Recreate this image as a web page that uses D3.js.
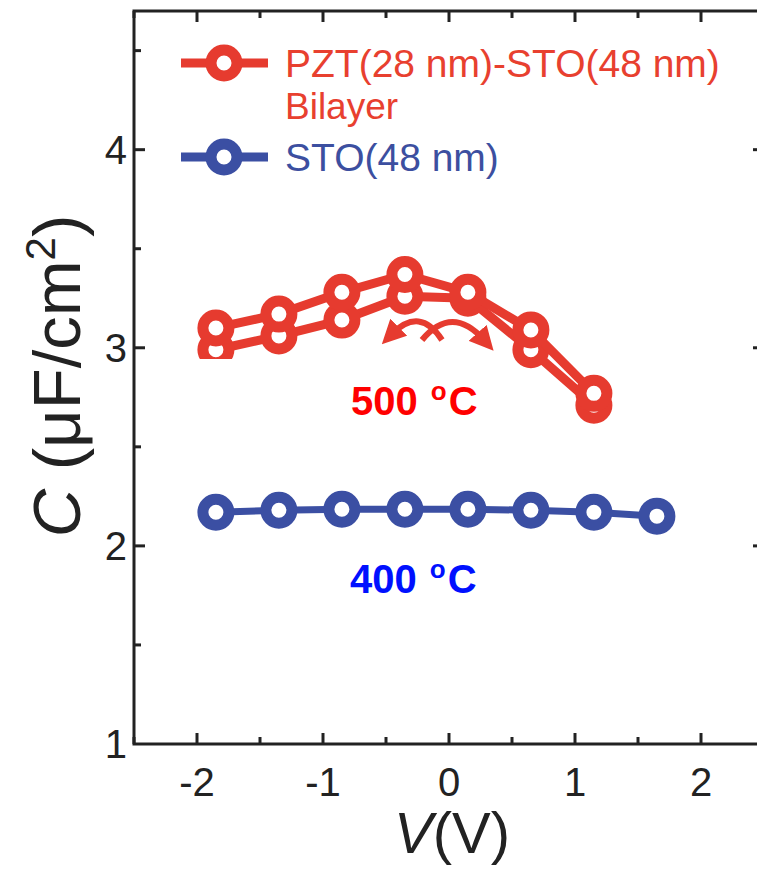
<!DOCTYPE html>
<html>
<head>
<meta charset="utf-8">
<script src="https://cdn.jsdelivr.net/npm/d3@7/dist/d3.min.js"></script>
<style>
  html, body { margin: 0; padding: 0; background: #fff; }
  svg { display: block; font-family: "Liberation Sans", Arial, sans-serif; }
</style>
</head>
<body>
<svg id="chart" width="757" height="870"></svg>
<script>
// Bias voltage sweep points (V)
const voltageBilayer = [-1.85, -1.35, -0.85, -0.35, 0.15, 0.65, 1.15];
const voltageSTO = [-1.85, -1.35, -0.85, -0.35, 0.15, 0.65, 1.15, 1.65];

// Capacitance density (µF/cm²): PZT–STO bilayer, two sweep directions
const bilayerSweepUp = [3.10, 3.17, 3.28, 3.37, 3.28, 3.09, 2.77];
const bilayerSweepDown = [2.99, 3.06, 3.14, 3.26, 3.25, 2.99, 2.71];
// STO single layer
const stoValues = [2.17, 2.18, 2.185, 2.185, 2.185, 2.18, 2.17, 2.15];

const xTicks = [-2, -1, 0, 1, 2];
const yTicks = [1, 2, 3, 4];
const xMinorTicks = [-2.5, -1.5, -0.5, 0.5, 1.5];
const yMinorTicks = [1.5, 2.5, 3.5, 4.5];

const legendLabels = ["PZT(28 nm)-STO(48 nm)", "Bilayer", "STO(48 nm)"];
const tempLabels = ["500", "400"];

const RED = "#e63b2f";
const BLUE = "#3b4fa3";
const AXIS = "#222";

const svg = d3.select("#chart");

const x = d3.scaleLinear().domain([-2.5, 2.5]).range([134, 764]);
const y = d3.scaleLinear().domain([1, 4.7]).range([744, 11]);

// Frame
svg.append("rect")
  .attr("x", x(-2.5)).attr("y", y(4.7))
  .attr("width", x(2.5) - x(-2.5)).attr("height", y(1) - y(4.7))
  .attr("fill", "none").attr("stroke", AXIS).attr("stroke-width", 3);

// Inward ticks on all four sides
const tickG = svg.append("g").attr("stroke", AXIS).attr("stroke-width", 3);
function xTick(v, len) {
  tickG.append("line").attr("x1", x(v)).attr("x2", x(v))
    .attr("y1", y(1)).attr("y2", y(1) - len);
  tickG.append("line").attr("x1", x(v)).attr("x2", x(v))
    .attr("y1", y(4.7)).attr("y2", y(4.7) + len);
}
function yTick(v, len) {
  tickG.append("line").attr("y1", y(v)).attr("y2", y(v))
    .attr("x1", x(-2.5)).attr("x2", x(-2.5) + len);
  tickG.append("line").attr("y1", y(v)).attr("y2", y(v))
    .attr("x1", x(2.5)).attr("x2", x(2.5) - len);
}
xTicks.forEach(v => xTick(v, 11));
xMinorTicks.forEach(v => xTick(v, 7));
yTicks.filter(v => v > 1).forEach(v => yTick(v, 11));
yMinorTicks.forEach(v => yTick(v, 7));

// Tick labels
svg.append("g").selectAll("text").data(xTicks).join("text")
  .attr("x", d => x(d)).attr("y", 796)
  .attr("text-anchor", "middle")
  .attr("font-size", 40).attr("fill", AXIS)
  .text(d => d);
svg.append("g").selectAll("text").data(yTicks).join("text")
  .attr("x", 127).attr("y", d => y(d)).attr("dy", "0.36em")
  .attr("text-anchor", "end")
  .attr("font-size", 40).attr("fill", AXIS)
  .text(d => d);

// Axis titles
const xt = svg.append("text")
  .attr("x", 452).attr("y", 853)
  .attr("text-anchor", "middle")
  .attr("font-size", 58).attr("fill", AXIS);
xt.append("tspan").attr("font-style", "italic").text("V");
xt.append("tspan").text("(V)");

const yt = svg.append("text")
  .attr("transform", "translate(80,376) rotate(-90)")
  .attr("text-anchor", "middle")
  .attr("font-size", 67).attr("fill", AXIS);
yt.append("tspan").attr("font-style", "italic").text("C");
yt.append("tspan").text(" (μF/cm");
yt.append("tspan").attr("font-size", 42).attr("dy", -25).text("2");
yt.append("tspan").attr("dy", 25).text(")");

// Series drawing
const line = d3.line().x(d => x(d[0])).y(d => y(d[1]));
function drawSeries(xs, ys, color, lw) {
  const pts = xs.map((v, i) => [v, ys[i]]);
  const g = svg.append("g");
  g.append("path").datum(pts).attr("d", line)
    .attr("fill", "none").attr("stroke", color)
    .attr("stroke-width", lw).attr("stroke-linejoin", "round");
  g.selectAll("circle").data(pts).join("circle")
    .attr("cx", d => x(d[0])).attr("cy", d => y(d[1]))
    .attr("r", 13).attr("fill", "#fff")
    .attr("stroke", color).attr("stroke-width", 11);
}

drawSeries(voltageSTO, stoValues, BLUE, 7);
drawSeries(voltageBilayer, bilayerSweepDown, RED, 9);
drawSeries(voltageBilayer, bilayerSweepUp, RED, 9);

// Sweep-direction arrows under the bilayer peak
const defs = svg.append("defs");
defs.append("marker").attr("id", "arrowRed")
  .attr("viewBox", "0 0 10 10").attr("refX", 4).attr("refY", 5)
  .attr("markerWidth", 4).attr("markerHeight", 4)
  .attr("orient", "auto")
  .append("path").attr("d", "M0,0 L10,5 L0,10 Z").attr("fill", RED);
const arrowG = svg.append("g").attr("fill", "none")
  .attr("stroke", RED).attr("stroke-width", 6);
arrowG.append("path")
  .attr("d", "M442,340 Q420,306 392,334")
  .attr("marker-end", "url(#arrowRed)");
arrowG.append("path")
  .attr("d", "M422,340 Q452,304 484,340")
  .attr("marker-end", "url(#arrowRed)");

// Label backing patch over the lower-left markers
svg.append("rect").attr("x", 165).attr("y", 359)
  .attr("width", 160).attr("height", 60).attr("fill", "#fff");

// Temperature labels
function tempLabel(txt, cx, cy, color) {
  const t = svg.append("text").attr("x", cx).attr("y", cy)
    .attr("font-size", 40).attr("font-weight", "bold").attr("fill", color);
  t.append("tspan").text(txt + " ");
  t.append("tspan").attr("font-size", 26).attr("dx", 2).attr("dy", -15).text("o");
  t.append("tspan").attr("dx", 2).attr("dy", 15).text("C");
}
tempLabel(tempLabels[0], 351, 415, "#ff0000");
tempLabel(tempLabels[1], 350, 593, "#0010ff");

// Legend
function legendRow(cy, color) {
  const g = svg.append("g");
  g.append("line").attr("x1", 181).attr("x2", 268).attr("y1", cy).attr("y2", cy)
    .attr("stroke", color).attr("stroke-width", 9);
  g.append("circle").attr("cx", 224).attr("cy", cy).attr("r", 13)
    .attr("fill", "#fff").attr("stroke", color).attr("stroke-width", 11);
}
legendRow(63, RED);
legendRow(157, BLUE);
svg.append("text").attr("x", 285).attr("y", 77)
  .attr("font-size", 39).attr("fill", "#e8402f").text(legendLabels[0]);
svg.append("text").attr("x", 285).attr("y", 119)
  .attr("font-size", 37).attr("fill", "#e8402f").text(legendLabels[1]);
svg.append("text").attr("x", 285).attr("y", 171)
  .attr("font-size", 39).attr("fill", "#3c4fa0").text(legendLabels[2]);
</script>
</body>
</html>
